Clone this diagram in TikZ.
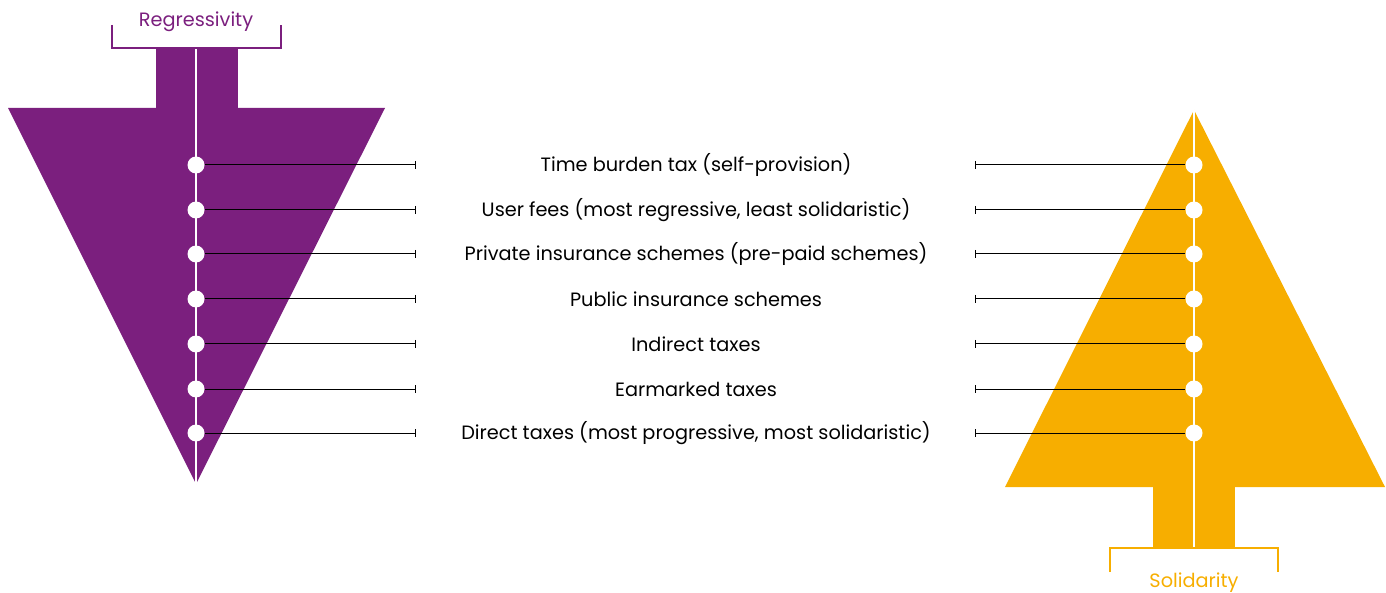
\documentclass[tikz,border=0pt]{standalone}
\usepackage{fontspec}
\setmainfont{Poppins}
\definecolor{purp}{HTML}{7B1F7E}
\definecolor{oran}{HTML}{F7AE00}
\begin{document}
\begin{tikzpicture}[x=1pt,y=-1pt,
  dot/.style={circle,fill=white,inner sep=0pt,minimum size=17pt},
  lbl/.style={font=\fontsize{19.3}{22}\selectfont,text=black,anchor=center},
  conn/.style={draw=black,line width=1pt}]
\useasboundingbox (0,0) rectangle (1386,593);
% left purple shape
\fill[purp] (8,108) -- (385,108) -- (196,484) -- cycle;
\fill[purp] (156,48) rectangle (238,109);
\draw[white,line width=2pt] (196,48) -- (196,484);
\draw[purp,line width=1.2pt] (112,25) -- (112,48) -- (281,48) -- (281,25);
\node[text=purp,font=\fontsize{19.3}{22}\selectfont] (reg) at (196,22) {Regressivity};
% right orange shape
\fill[oran] (1005,487) -- (1385,487) -- (1194,110) -- cycle;
\fill[oran] (1153,486) rectangle (1235,548);
\draw[white,line width=2pt] (1194,110) -- (1194,548);
\draw[oran,line width=1.2pt] (1110,572) -- (1110,548) -- (1278,548) -- (1278,572);
\node[text=oran,font=\fontsize{19.3}{22}\selectfont] (sol) at (1194,583) {Solidarity};
% rows
\foreach \i/\y/\t in {1/165/Time burden tax (self-provision),
  2/210/{User fees (most regressive, least solidaristic)},
  3/254/Private insurance schemes (pre-paid schemes),
  4/299/Public insurance schemes,
  5/344/Indirect taxes,
  6/389/Earmarked taxes,
  7/433/{Direct taxes (most progressive, most solidaristic)}}{
  \node[dot] (l\i) at (196,\y) {};
  \node[dot] (r\i) at (1194,\y) {};
  \coordinate (la\i) at (415,\y);
  \coordinate (ra\i) at (975,\y);
  \node[lbl] (t\i) at (696,\y) {\t};
  \draw[conn] (l\i) -- (la\i);
  \draw[conn] (la\i) ++(0,-4) -- ++(0,8);
  \draw[conn] (r\i) -- (ra\i);
  \draw[conn] (ra\i) ++(0,-4) -- ++(0,8);
}
\end{tikzpicture}
\end{document}
